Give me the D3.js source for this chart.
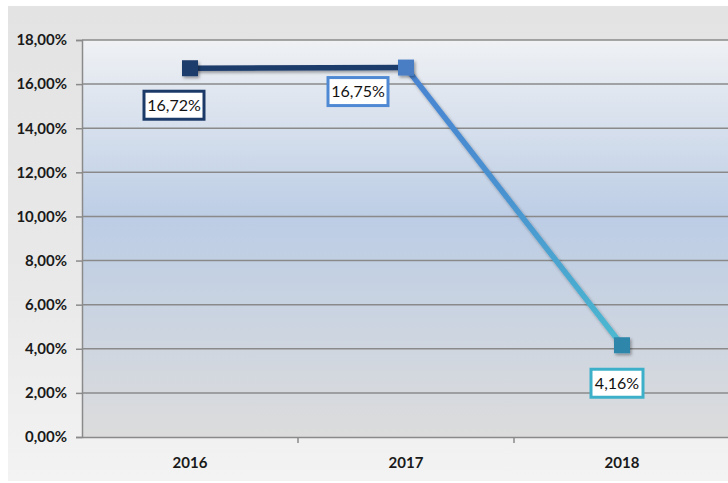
<!DOCTYPE html>
<html>
<head>
<meta charset="utf-8">
<script src="https://cdn.jsdelivr.net/npm/d3@7"></script>
<style>
  body { margin: 0; background: #fff; }
  svg { display: block; }
</style>
</head>
<body>
<div id="chart"></div>
<script>
const width = 728;
const height = 483;

// dados
const anos = ["2016", "2017", "2018"];
const valores = [16.72, 16.75, 4.16];
const rotulos = ["16,72%", "16,75%", "4,16%"];
const yTicks = [0, 2, 4, 6, 8, 10, 12, 14, 16, 18];

const margin = {top: 40, right: -2, bottom: 46, left: 82};

const svg = d3.select("#chart").append("svg")
  .attr("width", width)
  .attr("height", height);

const defs = svg.append("defs");

// fundo externo
const bgGrad = defs.append("linearGradient").attr("id", "bg")
  .attr("x1", 0).attr("y1", 0).attr("x2", 0).attr("y2", 1);
bgGrad.append("stop").attr("offset", "0%").attr("stop-color", "#e3e3e3");
bgGrad.append("stop").attr("offset", "60%").attr("stop-color", "#e9e9e9");
bgGrad.append("stop").attr("offset", "100%").attr("stop-color", "#f3f3f3");

// fundo da area de plotagem
const plotGrad = defs.append("linearGradient").attr("id", "plotbg")
  .attr("x1", 0).attr("y1", 0).attr("x2", 0).attr("y2", 1);
plotGrad.append("stop").attr("offset", "0%").attr("stop-color", "#eff1f4");
plotGrad.append("stop").attr("offset", "45%").attr("stop-color", "#bccde5");
plotGrad.append("stop").attr("offset", "100%").attr("stop-color", "#dcdcdc");

svg.append("rect")
  .attr("x", 8).attr("y", 6)
  .attr("width", width - 8).attr("height", height - 8)
  .attr("fill", "url(#bg)");

const xMax = width - margin.left - margin.right;
const yMax = height - margin.top - margin.bottom;

const g = svg.append("g")
  .attr("transform", "translate(" + margin.left + "," + margin.top + ")");

// X
const xScale = d3.scaleBand()
  .domain(anos)
  .range([0, xMax]);

// Y
const yScale = d3.scaleLinear()
  .domain([0, 18])
  .range([yMax, 0]);

g.append("rect")
  .attr("width", xMax).attr("height", yMax)
  .attr("fill", "url(#plotbg)");

// grid
g.append("g")
  .selectAll("line")
  .data(yTicks.slice(1))
  .enter().append("line")
  .attr("x1", 0).attr("x2", xMax)
  .attr("y1", d => yScale(d)).attr("y2", d => yScale(d))
  .attr("stroke", "#8a8a8a")
  .attr("stroke-width", 1.5);

const fonte = "Lato, 'Open Sans', sans-serif";

// eixo Y
const yAxis = g.append("g")
  .call(d3.axisLeft(yScale)
    .tickValues(yTicks)
    .tickSize(6)
    .tickPadding(9)
    .tickFormat(d => d3.format(".2f")(d).replace(".", ",") + "%"));
yAxis.select(".domain").attr("stroke", "#8a8a8a").attr("stroke-width", 1.5);
yAxis.selectAll(".tick line").attr("stroke", "#8a8a8a").attr("stroke-width", 1.5);
yAxis.selectAll("text")
  .attr("font-family", fonte)
  .attr("font-weight", "bold")
  .attr("font-size", 15)
  .attr("fill", "#1a1a1a");

// eixo X
const xAxis = g.append("g")
  .attr("transform", "translate(0," + yMax + ")")
  .call(d3.axisBottom(xScale).tickSize(0).tickPadding(20));
xAxis.select(".domain").attr("stroke", "#8a8a8a").attr("stroke-width", 1.5);
xAxis.selectAll("text")
  .attr("font-family", fonte)
  .attr("font-weight", "bold")
  .attr("font-size", 15)
  .attr("fill", "#1a1a1a");

// marcas entre categorias
g.append("g")
  .selectAll("line")
  .data(anos.slice(1))
  .enter().append("line")
  .attr("x1", d => xScale(d)).attr("x2", d => xScale(d))
  .attr("y1", yMax).attr("y2", yMax + 6)
  .attr("stroke", "#8a8a8a")
  .attr("stroke-width", 1.5);

const cx = d => xScale(d) + xScale.bandwidth() / 2;
const pontos = anos.map((a, i) => ({ano: a, v: valores[i], rot: rotulos[i]}));

const markerColors = ["#1e3e6c", "#4a7ec4", "#2f87ab"];
const boxColors = ["#1c3a68", "#4f89d3", "#3cb0c9"];

// gradiente do segundo trecho
const lineGrad = defs.append("linearGradient").attr("id", "linegrad")
  .attr("gradientUnits", "userSpaceOnUse")
  .attr("x1", cx("2017")).attr("y1", yScale(valores[1]))
  .attr("x2", cx("2018")).attr("y2", yScale(valores[2]));
lineGrad.append("stop").attr("offset", "0%").attr("stop-color", "#4a84d2");
lineGrad.append("stop").attr("offset", "45%").attr("stop-color", "#4a92d0");
lineGrad.append("stop").attr("offset", "100%").attr("stop-color", "#4bbad0");

defs.append("filter").attr("id", "shadow")
  .attr("filterUnits", "userSpaceOnUse")
  .attr("x", -100).attr("y", -100).attr("width", width + 200).attr("height", height + 200)
  .append("feDropShadow")
  .attr("dx", 1.5).attr("dy", 2).attr("stdDeviation", 1.5)
  .attr("flood-color", "#000").attr("flood-opacity", 0.35);

const segmentos = d3.pairs(pontos);
const segStroke = ["#1d3c6c", "url(#linegrad)"];

g.append("g")
  .attr("filter", "url(#shadow)")
  .selectAll("line")
  .data(segmentos)
  .enter().append("line")
  .attr("x1", d => cx(d[0].ano)).attr("y1", d => yScale(d[0].v))
  .attr("x2", d => cx(d[1].ano)).attr("y2", d => yScale(d[1].v))
  .attr("stroke", (d, i) => segStroke[i])
  .attr("stroke-width", 5.5);

// marcadores
g.append("g")
  .attr("filter", "url(#shadow)")
  .selectAll("rect")
  .data(pontos)
  .enter().append("rect")
  .attr("x", d => cx(d.ano) - 8)
  .attr("y", d => yScale(d.v) - 8)
  .attr("width", 16).attr("height", 16)
  .attr("fill", (d, i) => markerColors[i]);

// rotulos
const offsets = [[-16, 37], [-48, 24], [-5, 38]];
const lbl = g.append("g")
  .selectAll("g")
  .data(pontos)
  .enter().append("g")
  .attr("transform", (d, i) => "translate(" + (cx(d.ano) + offsets[i][0]) + "," + (yScale(d.v) + offsets[i][1]) + ")");

lbl.append("rect")
  .attr("x", (d, i) => i === 2 ? -26 : -30)
  .attr("y", -14)
  .attr("width", (d, i) => i === 2 ? 52 : 60)
  .attr("height", 28)
  .attr("fill", "#fff")
  .attr("stroke", (d, i) => boxColors[i])
  .attr("stroke-width", 3);

lbl.append("text")
  .attr("text-anchor", "middle")
  .attr("dy", "0.36em")
  .attr("font-family", fonte)
  .attr("font-size", 16)
  .attr("fill", "#111")
  .text(d => d.rot);
</script>
</body>
</html>
